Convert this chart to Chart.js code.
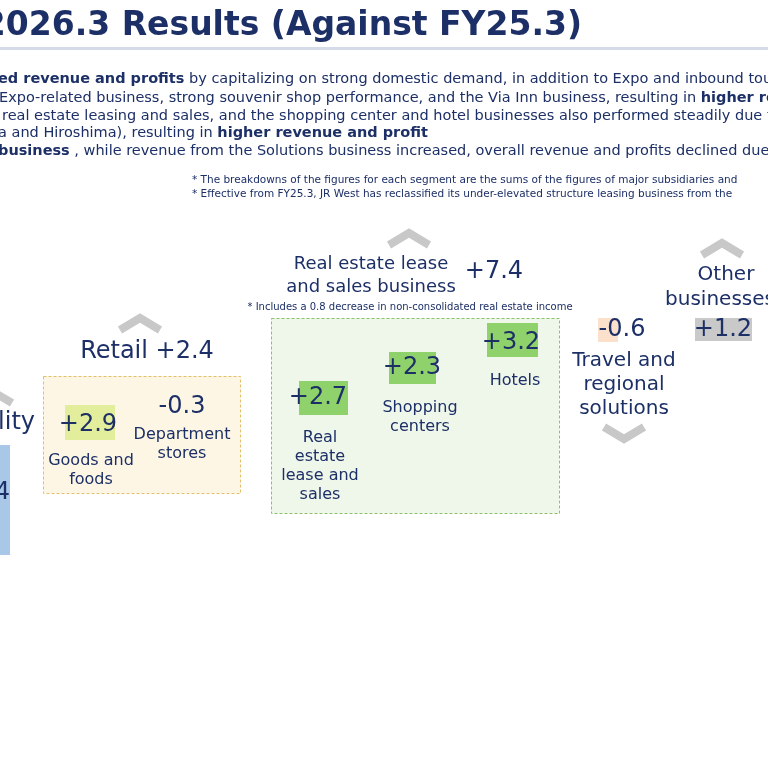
<!DOCTYPE html>
<html><head><meta charset="utf-8">
<script src="https://cdn.jsdelivr.net/npm/chart.js@4"></script>
<style>html,body{margin:0;padding:0;background:#fff}#w{width:768px;height:768px}</style>
</head><body><div id="w"><canvas id="c" width="768" height="768"></canvas></div>
<script>
const segments = ["Mobility","Retail","Real estate lease and sales business","Travel and regional solutions","Other businesses"];
const segmentValues = ["+?", "+2.4", "+7.4", "-0.6", "+1.2"];
const subCategories = ["Goods and foods","Department stores","Real estate lease and sales","Shopping centers","Hotels"];
const subValues = ["+2.9","-0.3","+2.7","+2.3","+3.2"];
const NAVY = "#1c2f66";

function chevron(ctx,x,y,up){
  ctx.save();ctx.strokeStyle="#c8c8c8";ctx.lineWidth=8;ctx.lineJoin="miter";
  ctx.beginPath();
  if(up){ctx.moveTo(x-20,y+8);ctx.lineTo(x,y-4);ctx.lineTo(x+20,y+8);}
  else{ctx.moveTo(x-20,y-8);ctx.lineTo(x,y+4);ctx.lineTo(x+20,y-8);}
  ctx.stroke();ctx.restore();
}
function txt(ctx,s,x,y,size,opt={}){
  ctx.font=(opt.bold?"bold ":"")+size+"px 'DejaVu Sans', Verdana, sans-serif";
  ctx.fillStyle=opt.color||NAVY;ctx.textAlign=opt.align||"center";ctx.textBaseline="middle";
  ctx.fillText(s,x,y);
}
function mixed(ctx,parts,x,y,size){
  let cx=x;
  for(const [s,b] of parts){ctx.font=(b?"bold ":"")+size+"px 'DejaVu Sans', Verdana, sans-serif";
    ctx.fillStyle=NAVY;ctx.textAlign="left";ctx.textBaseline="middle";ctx.fillText(s,cx,y);cx+=ctx.measureText(s).width;}
}
function hl(ctx,x,y,w,h,c){ctx.fillStyle=c;ctx.fillRect(x,y,w,h);}
function dbox(ctx,x,y,w,h,fill,stroke){ctx.save();ctx.fillStyle=fill;ctx.fillRect(x,y,w,h);ctx.setLineDash([3,2]);ctx.strokeStyle=stroke;ctx.lineWidth=1;ctx.strokeRect(x+.5,y+.5,w,h);ctx.restore();}

const slide={id:"slide",afterDraw(chart){
  const ctx=chart.ctx;ctx.save();
  txt(ctx,"FY2026.3 Results (Against FY25.3)",582,26,33,{bold:true,align:"right"});
  ctx.fillStyle="#d5dbe8";ctx.fillRect(0,47,768,3);
  mixed(ctx,[["ed revenue and profits",true],[" by capitalizing on strong domestic demand, in addition to Expo and inbound touri",false]],-2,79,14.5);
  mixed(ctx,[["Expo-related business, strong souvenir shop performance, and the Via Inn business, resulting in ",false],["higher re",true]],-1,98,14.5);
  mixed(ctx,[["real estate leasing and sales, and the shopping center and hotel businesses also performed steadily due t",false]],2,116,14.5);
  mixed(ctx,[["a and Hiroshima), resulting in ",false],["higher revenue and profit",true]],-2,133,14.5);
  mixed(ctx,[["business",true],[" , while revenue from the Solutions business increased, overall revenue and profits declined due",false]],-2,151,14.5);
  txt(ctx,"* The breakdowns of the figures for each segment are the sums of the figures of major subsidiaries and",192,180,10.5,{align:"left"});
  txt(ctx,"* Effective from FY25.3, JR West has reclassified its under-elevated structure leasing business from the",192,194,10.5,{align:"left"});
  // Mobility
  chevron(ctx,-8,395,true);
  txt(ctx,"lity",35,423,24,{align:"right"});
  hl(ctx,0,445,10,110,"#a9c8e8");
  txt(ctx,"4",10,493,24,{align:"right"});
  // Retail
  chevron(ctx,140,322,true);
  txt(ctx,segments[1]+" "+segmentValues[1],147,352,24);
  dbox(ctx,43,376,197,117,"#fdf6e4","#e5c06a");
  hl(ctx,65,405,50,35,"#e3ee9c");
  txt(ctx,subValues[0],88,425,24);
  txt(ctx,"Goods and",91,461,16);txt(ctx,"foods",91,480,16);
  txt(ctx,subValues[1],182,407,24);
  txt(ctx,"Department",182,435,16);txt(ctx,"stores",182,454,16);
  // Real estate
  chevron(ctx,409,237,true);
  txt(ctx,"Real estate lease",371,264,18);txt(ctx,"and sales business",371,287,18);
  txt(ctx,segmentValues[2],494,272,24);
  txt(ctx,"* Includes a 0.8 decrease in non-consolidated real estate income",410,307,10);
  dbox(ctx,271,318,288,195,"#eff6ea","#8cc06a");
  hl(ctx,299,381,49,34,"#8fd16a");txt(ctx,subValues[2],318,398,24);
  txt(ctx,"Real",320,438,16);txt(ctx,"estate",320,457,16);txt(ctx,"lease and",320,476,16);txt(ctx,"sales",320,495,16);
  hl(ctx,389,352,47,32,"#8fd16a");txt(ctx,subValues[3],412,368,24);
  txt(ctx,"Shopping",420,408,16);txt(ctx,"centers",420,427,16);
  hl(ctx,487,323,51,34,"#8fd16a");txt(ctx,subValues[4],511,343,24);
  txt(ctx,"Hotels",515,381,16);
  // Travel
  hl(ctx,598,318,20,24,"#fbe0cc");
  txt(ctx,segmentValues[3],622,330,24);
  txt(ctx,"Travel and",624,361,20);txt(ctx,"regional",624,385,20);txt(ctx,"solutions",624,409,20);
  chevron(ctx,624,435,false);
  // Other
  chevron(ctx,722,247,true);
  txt(ctx,"Other",726,275,20);txt(ctx,"businesses",720,300,20);
  hl(ctx,695,318,57,23,"#c9c9c9");
  txt(ctx,segmentValues[4],723,330,24);
  ctx.restore();
}};
new Chart(document.getElementById("c"),{type:"bar",
  data:{labels:segments,datasets:[{data:[],backgroundColor:"#0000"}]},
  options:{responsive:false,animation:false,layout:{padding:0},
    plugins:{legend:{display:false},tooltip:{enabled:false}},
    scales:{x:{display:false},y:{display:false}}},
  plugins:[slide]});
</script></body></html>
